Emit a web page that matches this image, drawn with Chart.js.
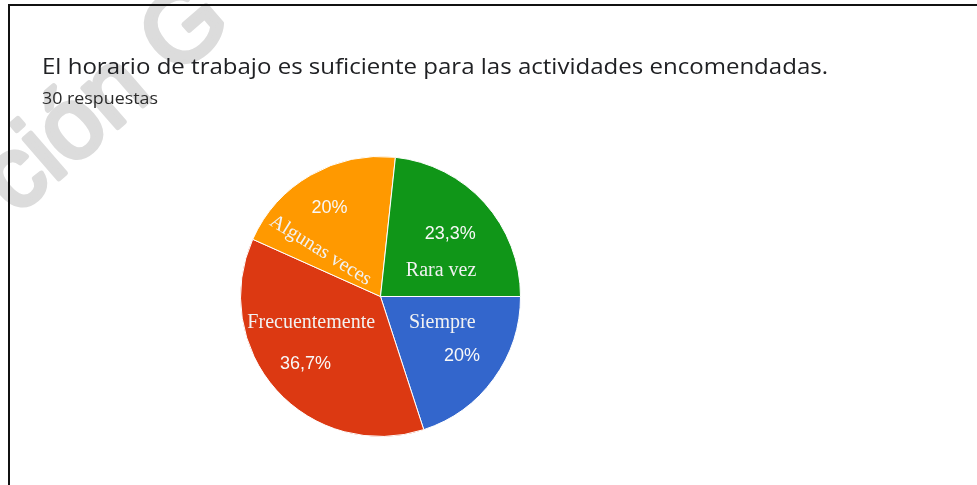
<!DOCTYPE html>
<html>
<head>
<meta charset="utf-8">
<script src="https://cdn.jsdelivr.net/npm/chart.js@4.4.1/dist/chart.umd.min.js"></script>
<style>
  html, body { margin: 0; padding: 0; background: #fff; }
  #wrap { width: 977px; height: 485px; position: relative; }
</style>
</head>
<body>
<div id="wrap"><canvas id="c" width="977" height="485"></canvas></div>
<script>
// ---- data ----
const titleText = 'El horario de trabajo es suficiente para las actividades encomendadas.';
const subtitleText = '30 respuestas';
const categories = ['Siempre', 'Frecuentemente', 'Algunas veces', 'Rara vez'];
const values = [20, 36.7, 20, 23.3];
const percentLabels = ['20%', '36,7%', '20%', '23,3%'];
const colors = ['#3366cc', '#dc3912', '#ff9900', '#109618'];
const watermarkText = 'ción G';

// label placement (angle in degrees from 3 o'clock, clockwise; radius fraction)
const pctRadius = [0.72, 0.72, 0.73, 0.67];
const catPlacement = [
  { angle: 23.3, r: 0.48, rot: 0 },
  { angle: 159, r: 0.53, rot: 0 },
  { angle: 217.5, r: 0.54, rot: 32 },
  { angle: -22.9, r: 0.47, rot: 0 }
];

function fitText(ctx, text, x, y, targetW) {
  const w = ctx.measureText(text).width;
  ctx.save();
  ctx.translate(x, y);
  ctx.scale(targetW / w, 1);
  ctx.fillText(text, 0, 0);
  ctx.restore();
}

const decor = {
  id: 'decor',
  beforeDraw(chart) {
    const ctx = chart.ctx;
    ctx.save();
    ctx.fillStyle = '#fff';
    ctx.fillRect(0, 0, chart.width, chart.height);
    // watermark
    ctx.translate(16, 216);
    ctx.rotate(-41 * Math.PI / 180);
    ctx.font = '400 100px "Liberation Sans", Arial, sans-serif';
    ctx.fillStyle = '#dcdcdc';
    ctx.strokeStyle = '#dcdcdc';
    ctx.lineWidth = 5;
    ctx.lineJoin = 'round';
    ctx.textBaseline = 'alphabetic';
    ctx.textAlign = 'left';
    ctx.fillText(watermarkText, 0, 0);
    ctx.strokeText(watermarkText, 0, 0);
    ctx.restore();

    ctx.save();
    ctx.textAlign = 'left';
    ctx.textBaseline = 'alphabetic';
    ctx.fillStyle = '#202124';
    ctx.font = '400 22px "Open Sans", Roboto, sans-serif';
    fitText(ctx, titleText, 42, 74, 786);
    ctx.fillStyle = '#2a2a2a';
    ctx.font = '400 15.5px "Open Sans", Roboto, sans-serif';
    fitText(ctx, subtitleText, 42, 104, 116);
    ctx.restore();
  },
  afterDraw(chart) {
    const ctx = chart.ctx;
    const meta = chart.getDatasetMeta(0);
    const a0 = meta.data[0];
    const cx = a0.x, cy = a0.y, R = a0.outerRadius;
    ctx.save();
    ctx.textAlign = 'center';
    ctx.textBaseline = 'middle';
    // percentages
    ctx.font = '400 18px "Liberation Sans", Arial, sans-serif';
    ctx.fillStyle = '#f8f8f8';
    meta.data.forEach((arc, i) => {
      const mid = (arc.startAngle + arc.endAngle) / 2;
      const r = R * pctRadius[i];
      ctx.fillText(percentLabels[i], cx + Math.cos(mid) * r, cy + Math.sin(mid) * r);
    });
    // category labels
    ctx.font = '400 20px "Liberation Serif", "Times New Roman", serif';
    ctx.fillStyle = '#f2f2f2';
    categories.forEach((name, i) => {
      const p = catPlacement[i];
      const ang = p.angle * Math.PI / 180;
      const x = cx + Math.cos(ang) * R * p.r;
      const y = cy + Math.sin(ang) * R * p.r;
      ctx.save();
      ctx.translate(x, y);
      ctx.rotate(p.rot * Math.PI / 180);
      ctx.fillText(name, 0, 0);
      ctx.restore();
    });
    ctx.restore();
    // frame
    ctx.save();
    ctx.fillStyle = '#111';
    ctx.fillRect(8, 4, chart.width - 8, 2);
    ctx.fillRect(8, 4, 2, chart.height - 4);
    ctx.restore();
  }
};

new Chart(document.getElementById('c'), {
  type: 'pie',
  data: {
    labels: categories,
    datasets: [{
      data: values,
      backgroundColor: colors,
      borderColor: '#ffffff',
      borderWidth: 1
    }]
  },
  options: {
    responsive: false,
    animation: false,
    rotation: 90,
    layout: { padding: { left: 240, right: 456, top: 156, bottom: 48 } },
    plugins: {
      legend: { display: false },
      tooltip: { enabled: false },
      title: { display: false }
    }
  },
  plugins: [decor]
});
</script>
</body>
</html>
